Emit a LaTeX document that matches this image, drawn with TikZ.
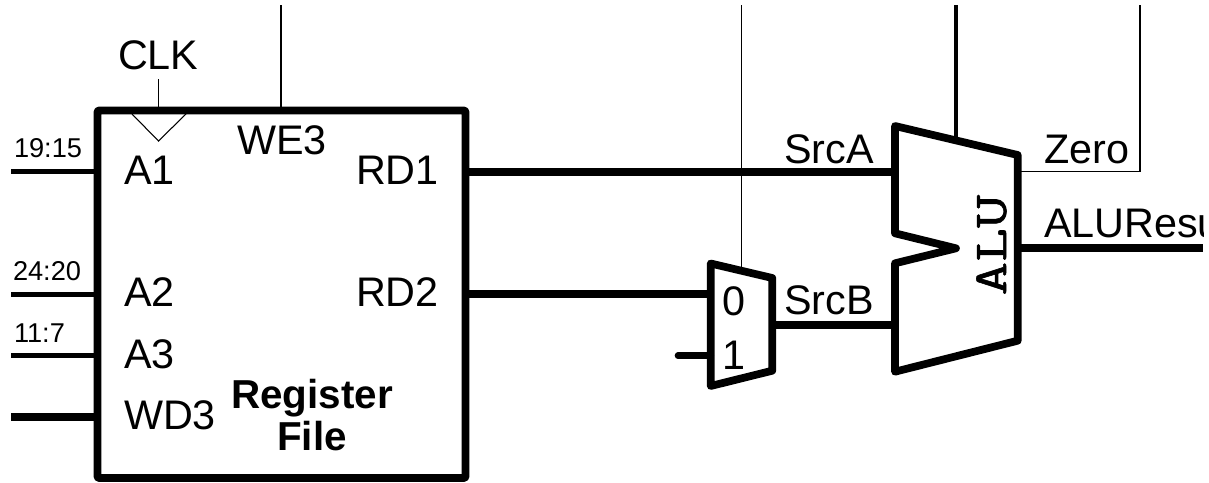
\documentclass[tikz,border=0pt]{standalone}
\usepackage{fontspec}
\setmainfont{Liberation Sans}
\newfontfamily\alufont[FakeBold=1.2,FakeStretch=1.38]{Latin Modern Mono}
\begin{document}
\begin{tikzpicture}[x=0.75pt,y=-0.75pt,
  every node/.style={inner sep=0pt,outer sep=0pt},
  lbl/.style={anchor=base west,font=\fontsize{31}{34}\selectfont},
  lblc/.style={anchor=base,font=\fontsize{30.3}{32}\selectfont\bfseries},
  sml/.style={anchor=base west,font=\fontsize{20.4}{22}\selectfont},
  thin wire/.style={line width=0.8pt},
  mid wire/.style={line width=3.6pt},
  bus/.style={line width=6pt},
  part/.style={line width=5.8pt,line join=round}]
\useasboundingbox (0,0) rectangle (1209,482);
\fill[white] (0,0) rectangle (1209,482);
% register file
\node[draw,part,rectangle,rounded corners=0.8pt,minimum width=276pt,minimum height=275.6pt,anchor=north west] (rf) at (97.5,110.5) {};
% clock
\coordinate (clkL) at (132,114);
\coordinate (clkT) at (158.5,141);
\coordinate (clkR) at (186,114);
\draw[thin wire,line join=miter] (clkL) -- (clkT) -- (clkR);
\coordinate (clkIn) at (158.5,79);
\coordinate (clkTop) at (158.5,108);
\draw[thin wire] (clkIn) -- (clkTop);
\coordinate (weIn) at (281,5);
\coordinate (weTop) at (281,108);
\draw[thin wire] (weIn) -- (weTop);
% register inputs
\coordinate (a1s) at (11,171.5); \coordinate (a1e) at (95,171.5);
\coordinate (a2s) at (11,294.3); \coordinate (a2e) at (95,294.3);
\coordinate (a3s) at (11,355.7); \coordinate (a3e) at (95,355.7);
\coordinate (wds) at (11,416.8); \coordinate (wde) at (95,416.8);
\draw[mid wire] (a1s) -- (a1e);
\draw[mid wire] (a2s) -- (a2e);
\draw[mid wire] (a3s) -- (a3e);
\draw[bus] (wds) -- (wde);
% mux
\coordinate (mTL) at (710.7,263.5);
\coordinate (mTR) at (772.3,278);
\coordinate (mBR) at (772.3,370.7);
\coordinate (mBL) at (710.7,386);
\coordinate (m0) at (710.7,294.3);
\coordinate (m1) at (710.7,355.7);
\coordinate (mOut) at (772.3,324.7);
\coordinate (mSel) at (741.3,5);
\coordinate (mSelE) at (741.3,268);
% alu
\coordinate (aTL) at (895,126);
\coordinate (aTR) at (1017.7,155);
\coordinate (aBR) at (1017.7,340.7);
\coordinate (aBL) at (895,371.7);
\coordinate (nU) at (895,233.3);
\coordinate (nT) at (956,248.3);
\coordinate (nL) at (895,263.3);
\coordinate (aA) at (895,171.5);
\coordinate (aB) at (895,324.7);
\coordinate (aCtl) at (956,5);
\coordinate (aCtlE) at (956,140);
\coordinate (zS) at (1017.7,171.7);
\coordinate (zC) at (1140,171.7);
\coordinate (zE) at (1140,5);
\coordinate (rS) at (1017.7,248.3);
\coordinate (rE) at (1203,248.3);
\coordinate (rd1) at (466,171.5);
\coordinate (rd2) at (466,294.3);
\coordinate (one) at (678,355.7);
% wires
\draw[thin wire] (mSel) -- (mSelE);
\draw[bus] (rd1) -- (aA);
\draw[bus] (rd2) -- (m0);
\draw[line width=5pt,line cap=round] (one) -- (m1);
\draw[bus] (mOut) -- (aB);
\draw[line width=3.4pt] (aCtl) -- (aCtlE);
\draw[thin wire,line join=miter] (zS) -- (zC) -- (zE);
\draw[bus] (rS) -- (rE);
% mux and alu bodies
\draw[part] (mTL) -- (mTR) -- (mBR) -- (mBL) -- cycle;
\draw[part] (aTL) -- (aTR) -- (aBR) -- (aBL) -- (nL) -- (nT) -- (nU) -- cycle;
% labels
\node[lbl] (tclk) at (118,69) {CLK};
\node[lbl] (twe) at (237,154) {WE3};
\node[lbl] (ta1) at (124,184) {A1};
\node[lbl] (trd1) at (356,184) {RD1};
\node[lbl] (ta2) at (124,306) {A2};
\node[lbl] (trd2) at (356,306) {RD2};
\node[lbl] (ta3) at (124,368) {A3};
\node[lbl] (twd) at (124,429) {WD3};
\node[sml] (t1915) at (14,157) {19:15};
\node[sml] (t2420) at (13,280) {24:20};
\node[sml] (t117) at (14,342) {11:7};
\node[lblc] (treg) at (312,408) {Register};
\node[lblc] (tfile) at (312,450) {File};
\node[lbl] (tsa) at (784,163) {SrcA};
\node[lbl] (tsb) at (784,314) {SrcB};
\node[lbl] (tz) at (1044,163) {Zero};
\node[lbl] (t0) at (722,315) {0};
\node[lbl] (t1) at (722,369) {1};
\begin{scope}
\clip (0,0) rectangle (1203,482);
\node[lbl] (tres) at (1044,237) {ALUResult};
\end{scope}
\node[rotate=90,font=\fontsize{35.5}{40}\selectfont\alufont] (talu) at (991.5,245) {ALU};
\end{tikzpicture}
\end{document}
